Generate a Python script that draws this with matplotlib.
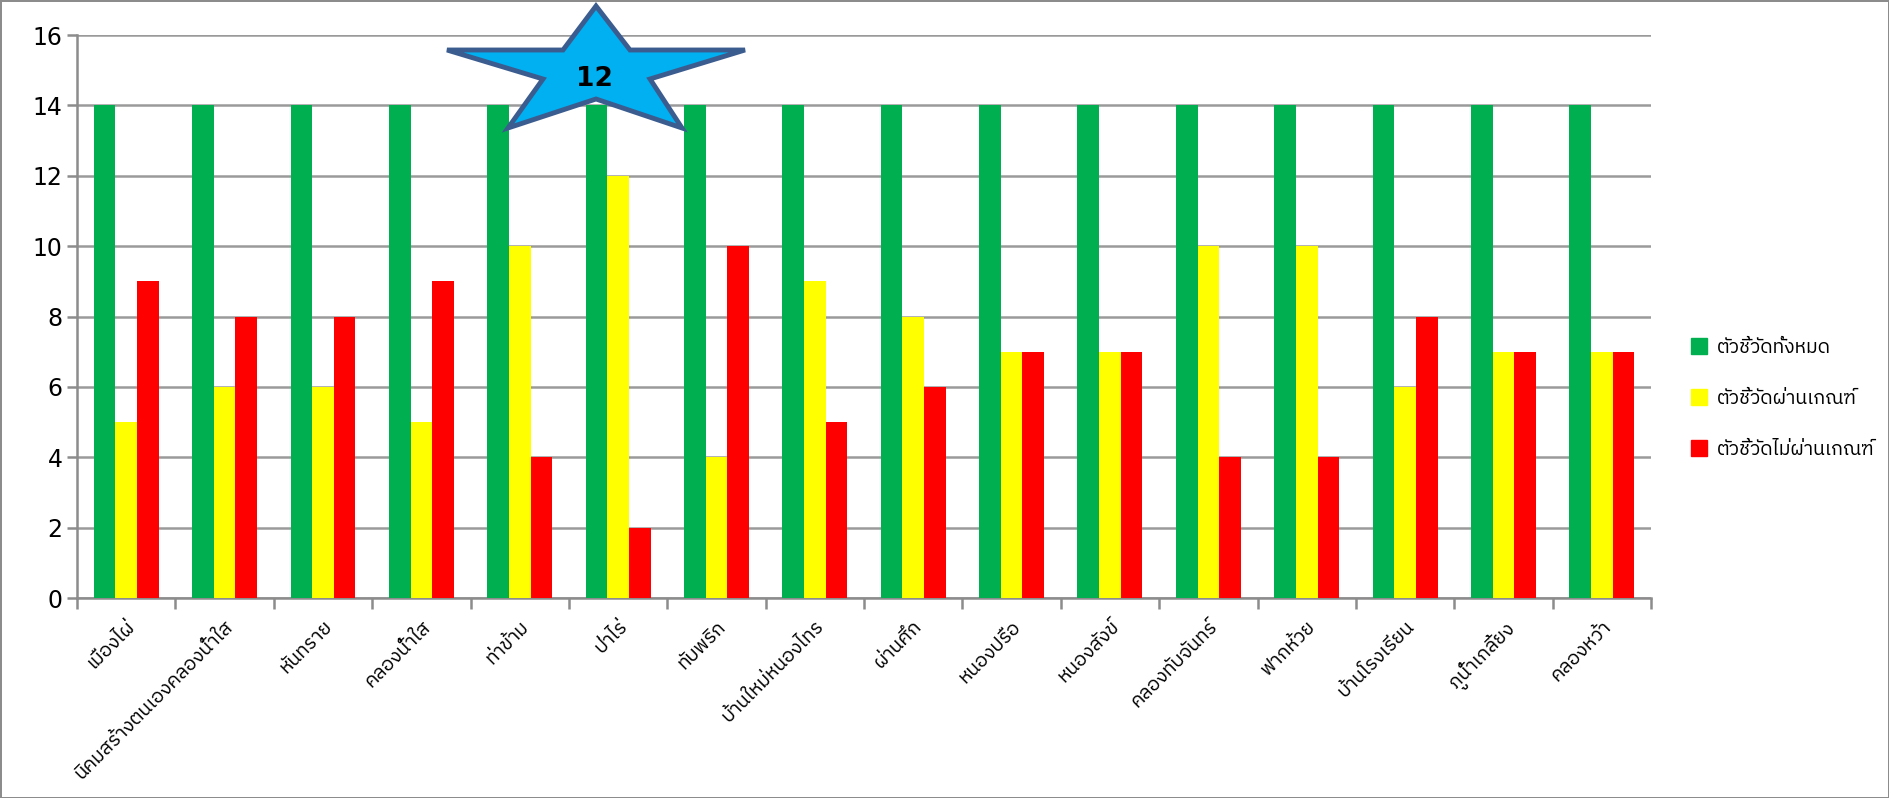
import numpy as np
import matplotlib
matplotlib.use('Agg')
import matplotlib.pyplot as plt
from matplotlib import font_manager
from matplotlib.ft2font import FT2Font
from matplotlib.patches import Polygon
from matplotlib.lines import Line2D

# data
districts = ['เมืองไผ่', 'นิคมสร้างตนเองคลองน้ำใส', 'หันทราย', 'คลองน้ำใส', 'ท่าข้าม',
             'ป่าไร่', 'ทับพริก', 'บ้านใหม่หนองไทร', 'ผ่านศึก', 'หนองปรือ', 'หนองสังข์',
             'คลองทับจันทร์', 'ฟากห้วย', 'บ้านโรงเรียน', 'ภูน้ำเกลี้ยง', 'คลองหว้า']
total = [14, 14, 14, 14, 14, 14, 14, 14, 14, 14, 14, 14, 14, 14, 14, 14]
passed = [5, 6, 6, 5, 10, 12, 4, 9, 8, 7, 7, 10, 10, 6, 7, 7]
failed = [9, 8, 8, 9, 4, 2, 10, 5, 6, 7, 7, 4, 4, 8, 7, 7]
series_names = ['ตัวชี้วัดทั้งหมด', 'ตัวชี้วัดผ่านเกณฑ์', 'ตัวชี้วัดไม่ผ่านเกณฑ์']
star_text = '12'

# find a font that has Thai glyphs
thai_font = None
cands = []
for f in font_manager.fontManager.ttflist:
    try:
        if 0x0E01 in FT2Font(f.fname).get_charmap():
            cands.append(f.name)
    except Exception:
        pass
for name in cands:
    if 'Thai' in name:
        thai_font = name
        break
if thai_font is None and cands:
    thai_font = cands[0]
thai_family = [thai_font, 'DejaVu Sans'] if thai_font else ['DejaVu Sans']

fig = plt.figure(figsize=(18.89, 7.98), dpi=100)
fig.patch.set_edgecolor('#8c8c8c')
fig.patch.set_linewidth(2)
ax = fig.add_axes([0.0408, 0.2506, 0.8332, 0.7054])

x = np.arange(len(districts))
w = 0.22
colors = ['#00B050', '#FFFF00', '#FF0000']
ax.bar(x - w, total, w, color=colors[0], zorder=3)
ax.bar(x, passed, w, color=colors[1], zorder=3)
ax.bar(x + w, failed, w, color=colors[2], zorder=3)

ax.set_xlim(-0.5, len(districts) - 0.5)
ax.set_ylim(0, 16)
ax.set_yticks(range(0, 17, 2))
ax.yaxis.grid(True, color='#9a9a9a', linewidth=1.8, zorder=0)
ax.set_axisbelow(True)

ax.set_xticks(x)
ax.set_xticklabels(districts, rotation=45, ha='right', rotation_mode='anchor',
                   family=thai_family, fontsize=14)
ax.set_xticks(np.arange(-0.5, len(districts), 1), minor=True)
ax.tick_params(axis='x', which='major', length=0, pad=14)
ax.tick_params(axis='x', which='minor', length=8, width=1.8, color='#8c8c8c')
ax.tick_params(axis='y', length=7, width=1.8, color='#8c8c8c', labelsize=17)

for s in ['top', 'right']:
    ax.spines[s].set_visible(False)
for s in ['left', 'bottom']:
    ax.spines[s].set_color('#8c8c8c')
    ax.spines[s].set_linewidth(1.8)

handles = [Line2D([], [], marker='s', linestyle='none', markersize=11,
                  markerfacecolor=c, markeredgecolor=c) for c in colors]
fig.legend(handles, series_names, loc='center left', bbox_to_anchor=(0.885, 0.5),
           frameon=False, prop={'family': thai_family, 'size': 14},
           labelspacing=1.7, handletextpad=0.4, handlelength=1.0)

# star callout
W, H = 1889, 798
pts = [(596, 6), (630, 50), (745, 50), (650, 79), (682, 128),
       (596, 99), (508, 128), (543, 79), (447, 50), (563, 50)]
star = Polygon([(px / W, 1 - py / H) for px, py in pts], closed=True,
               transform=fig.transFigure, facecolor='#00B0F0',
               edgecolor='#3B5C8F', linewidth=3.5, zorder=10)
fig.patches.append(star)
fig.text(594 / W, 1 - 79 / H, star_text, ha='center', va='center',
         fontsize=19, fontweight='bold', zorder=11)

fig.savefig('out.png', dpi=100)
